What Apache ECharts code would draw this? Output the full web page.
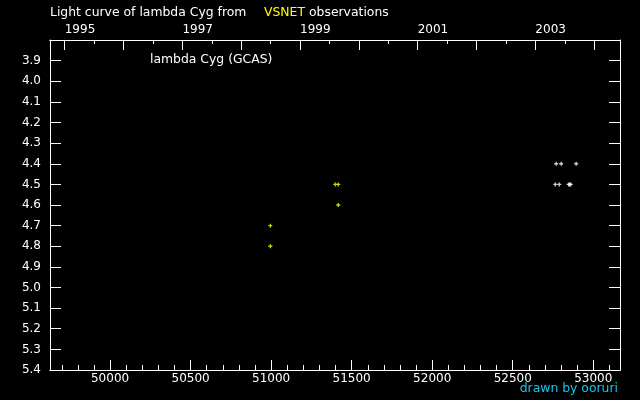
<!DOCTYPE html>
<html>
<head>
<meta charset="utf-8">
<script src="https://cdn.jsdelivr.net/npm/echarts@6/dist/echarts.min.js"></script>
<style>
  html, body { margin: 0; padding: 0; background: #000; }
  #chart { width: 640px; height: 400px; }
</style>
</head>
<body>
<div id="chart"></div>
<script>
// JD - 2400000 and visual magnitude
var vsnetJD = [50995, 50995, 51398, 51417, 51417]
var vsnetMag = [4.7, 4.8, 4.5, 4.5, 4.6]
var otherJD = [52770, 52801, 52894, 52764, 52789, 52847, 52853, 52860]
var otherMag = [4.4, 4.4, 4.4, 4.5, 4.5, 4.5, 4.5, 4.5]

var jdMajor = [50000, 50500, 51000, 51500, 52000, 52500, 53000]
var jdMinor = [49700, 49800, 49900, 50100, 50200, 50300, 50400, 50600, 50700, 50800, 50900,
  51100, 51200, 51300, 51400, 51600, 51700, 51800, 51900, 52100, 52200, 52300, 52400,
  52600, 52700, 52800, 52900, 53100]
var yearTicks = [1995, 1996, 1997, 1998, 1999, 2000, 2001, 2002, 2003, 2004]
var yearHalf = [1995.5, 1996.5, 1997.5, 1998.5, 1999.5, 2000.5, 2001.5, 2002.5, 2003.5]
var yearLabels = [1995, 1997, 1999, 2001, 2003]
var magTicks = [3.9, 4.0, 4.1, 4.2, 4.3, 4.4, 4.5, 4.6, 4.7, 4.8, 4.9, 5.0, 5.1, 5.2, 5.3, 5.4]

var jdMin = 49627
var jdMax = 53166

function yearToJD(y) { return 49718.5 + (y - 1995) * 365.25 }
function jdToYear(v) { return Math.round(1995 + (v - 49718.5) / 365.25) }

var font = 'DejaVu Sans'
var chart = echarts.init(document.getElementById('chart'))

var lineStyle = { color: '#fff', width: 1 }
var cross = 'path://M1,0H2V1H3V2H2V3H1V2H0V1H1Z'

function xAxis(pos, ticks, len, labels, fmt, align, margin) {
  return {
    type: 'value', position: pos, min: jdMin, max: jdMax,
    axisLine: { show: true, onZero: false, lineStyle: lineStyle },
    axisTick: { show: true, inside: true, length: len, customValues: ticks, lineStyle: lineStyle },
    axisLabel: labels ? {
      show: true, customValues: labels, formatter: fmt, color: '#fff',
      fontFamily: font, fontSize: 12, margin: margin, align: align
    } : { show: false },
    splitLine: { show: false }
  }
}

var option = {
  backgroundColor: '#000',
  animation: false,
  grid: { left: 50, right: 20, top: 40, bottom: 30, containLabel: false },
  xAxis: [
    xAxis('bottom', jdMajor, 10, jdMajor, function (v) { return String(v) }, 'center', 3),
    xAxis('bottom', jdMinor, 5, null),
    xAxis('top', yearTicks.map(yearToJD), 10, yearLabels.map(yearToJD), function (v) { return String(jdToYear(v)) }, 'left', 4),
    xAxis('top', yearHalf.map(yearToJD), 4, null)
  ],
  yAxis: [
    {
      type: 'value', position: 'left', inverse: true, min: 3.8, max: 5.4,
      axisLine: { show: true, onZero: false, lineStyle: lineStyle },
      axisTick: { show: true, inside: true, length: 11, customValues: magTicks, lineStyle: lineStyle },
      axisLabel: {
        show: true, customValues: magTicks, color: '#fff', fontFamily: font, fontSize: 12, margin: 9,
        formatter: function (v) { return v.toFixed(1) }
      },
      splitLine: { show: false }
    },
    {
      type: 'value', position: 'right', inverse: true, min: 3.8, max: 5.4,
      axisLine: { show: true, onZero: false, lineStyle: lineStyle },
      axisTick: { show: true, inside: true, length: 11, customValues: magTicks, lineStyle: lineStyle },
      axisLabel: { show: false },
      splitLine: { show: false }
    }
  ],
  series: [
    {
      name: 'VSNET', type: 'scatter',
      symbol: cross, symbolSize: 4,
      itemStyle: { color: '#ffff00' },
      data: vsnetJD.map(function (d, i) { return [d, vsnetMag[i]] })
    },
    {
      name: 'other', type: 'scatter',
      symbol: cross, symbolSize: 4,
      itemStyle: { color: '#ffffff' },
      data: otherJD.map(function (d, i) { return [d, otherMag[i]] })
    }
  ],
  graphic: [
    { type: 'text', left: 50, top: 7, style: { text: 'Light curve of lambda Cyg from', fill: '#fff', font: '12.4px ' + font } },
    { type: 'text', left: 264, top: 7, style: { text: 'VSNET', fill: '#ffff00', font: '12.4px ' + font } },
    { type: 'text', left: 309, top: 7, style: { text: 'observations', fill: '#fff', font: '12.4px ' + font } },
    { type: 'text', left: 150, top: 54, style: { text: 'lambda Cyg (GCAS)', fill: '#fff', font: '12.4px ' + font } },
    { type: 'text', right: 22, top: 383, style: { text: 'drawn by ooruri', fill: '#10c8f0', font: '12.4px ' + font } }
  ]
}

chart.setOption(option)
</script>
</body>
</html>
